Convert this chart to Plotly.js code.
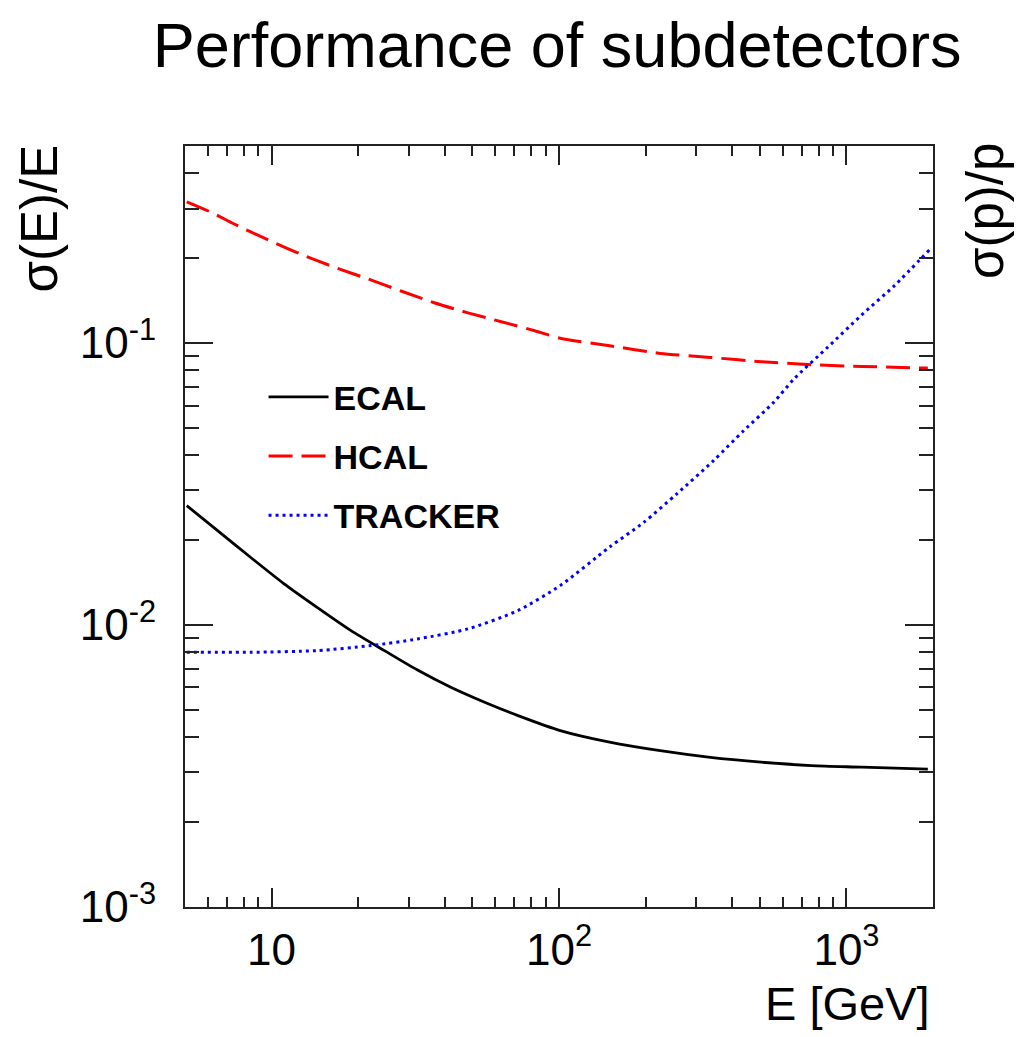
<!DOCTYPE html>
<html>
<head>
<meta charset="utf-8">
<script src="https://cdn.plot.ly/plotly-3.0.1.min.js"></script>
<style>html,body{margin:0;padding:0;background:#fff;}#chart{width:1026px;height:1037px;}</style>
</head>
<body>
<div id="chart"></div>
<script>
// Energy points (GeV) and resolutions
const energyEcal = [5.07, 6.46, 8.45, 11.0, 14.4, 18.9, 24.7, 32.2, 42.2, 55.1, 72, 101, 150, 225, 336, 505, 755, 1132, 1919];
const ecalRes    = [0.0265, 0.0217, 0.01738, 0.01405, 0.01155, 0.00955, 0.00811, 0.00692, 0.00600, 0.00532, 0.00477, 0.00422, 0.00384, 0.00358, 0.00339, 0.00326, 0.00317, 0.00313, 0.00308];

const energyHcal = [5.07, 6.21, 7.38, 9.66, 12.6, 16.5, 21.6, 28.2, 36.8, 48.2, 63, 82.3, 101, 150, 225, 336, 505, 755, 1132, 1919];
const hcalRes    = [0.317, 0.290, 0.265, 0.233, 0.207, 0.186, 0.169, 0.153, 0.139, 0.128, 0.119, 0.1106, 0.104, 0.0978, 0.0919, 0.0889, 0.0859, 0.0838, 0.0826, 0.0815];

const energyTrk  = [5.07, 8.45, 14.4, 22.2, 32.2, 48.2, 72, 102, 150, 197, 257, 345, 439, 558, 656, 859, 1122, 1466, 1941];
const trackerRes = [0.0080, 0.0080, 0.00811, 0.00845, 0.00892, 0.00968, 0.01125, 0.0139, 0.0189, 0.0231, 0.0292, 0.0383, 0.0489, 0.0616, 0.0745, 0.0965, 0.125, 0.1596, 0.2138];

const seriesNames = ['ECAL', 'HCAL', 'TRACKER'];
const xTickVals = [10, 100, 1000];
const xTickText = ['10', '10<sup>2</sup>', '10<sup>3</sup>'];
const yTickVals = [0.001, 0.01, 0.1];
const yTickText = ['10<sup>-3</sup>', '10<sup>-2</sup>', '10<sup>-1</sup>'];
const titleText = 'Performance of subdetectors';
const yTitleLeft = 'σ(E)/E';
const yTitleRight = 'σ(p)/p';
const xTitle = 'E [GeV]';

const FONT = 'Liberation Sans, Arial, Helvetica, sans-serif';

const traces = [
  {x: energyEcal, y: ecalRes, name: seriesNames[0], mode: 'lines', legendgroup: 'a',
   line: {color: '#000000', width: 2.8, shape: 'spline', smoothing: 0.8}},
  {x: energyHcal, y: hcalRes, name: seriesNames[1], mode: 'lines', legendgroup: 'b',
   line: {color: '#ff0000', width: 3, dash: '24px,9px', shape: 'spline', smoothing: 0.7}},
  {x: energyTrk, y: trackerRes, name: seriesNames[2], mode: 'lines', legendgroup: 'c',
   line: {color: '#0000ff', width: 3, dash: '3px,4px', shape: 'spline', smoothing: 0.7}}
];

const axisCommon = {
  type: 'log', showgrid: false, zeroline: false,
  showline: true, linecolor: '#222', linewidth: 2, mirror: 'allticks',
  ticks: 'inside', tickcolor: '#222', tickwidth: 2,
  tickmode: 'array',
  tickfont: {family: FONT, size: 44, color: '#000'},
  minor: {ticks: 'inside', tickmode: 'linear', tick0: 0, dtick: 'D1', tickcolor: '#222', tickwidth: 2, showgrid: false}
};

const layout = {
  width: 1026, height: 1037,
  paper_bgcolor: '#fff', plot_bgcolor: '#fff',
  margin: {l: 185, r: 93, t: 146, b: 130, pad: 0},
  title: {text: titleText, x: 0.543, xanchor: 'center', y: 0.957, yanchor: 'middle',
          font: {family: FONT, size: 63, color: '#000'}},
  xaxis: Object.assign({}, axisCommon, {
    range: [Math.log10(5), Math.log10(2000)],
    tickvals: xTickVals, ticktext: xTickText,
    ticklen: 19, minor: Object.assign({}, axisCommon.minor, {ticklen: 10}),
    ticklabelstandoff: 3
  }),
  yaxis: Object.assign({}, axisCommon, {
    range: [-3.0005, Math.log10(0.5)],
    tickvals: yTickVals, ticktext: yTickText,
    ticklen: 28, minor: Object.assign({}, axisCommon.minor, {ticklen: 14}),
    ticklabelstandoff: 18
  }),
  showlegend: true,
  legend: {x: 0.105, y: 0.708, xanchor: 'left', yanchor: 'top', bgcolor: 'rgba(0,0,0,0)',
           borderwidth: 0, itemwidth: 60, tracegroupgap: 12, traceorder: 'grouped',
           font: {family: FONT, size: 34, color: '#000', weight: 'bold'}},
  annotations: [
    {text: yTitleLeft, xref: 'paper', yref: 'paper', x: -0.195, y: 0.905, textangle: -90,
     xanchor: 'center', yanchor: 'middle', showarrow: false,
     font: {family: FONT, size: 51, color: '#000'}},
    {text: yTitleRight, xref: 'paper', yref: 'paper', x: 1.07, y: 0.915, textangle: -90,
     xanchor: 'center', yanchor: 'middle', showarrow: false,
     font: {family: FONT, size: 51, color: '#000'}},
    {text: xTitle, xref: 'paper', yref: 'paper', x: 0.998, y: -0.127,
     xanchor: 'right', yanchor: 'middle', showarrow: false,
     font: {family: FONT, size: 47, color: '#000'}}
  ]
};

Plotly.newPlot('chart', traces, layout, {displayModeBar: false, staticPlot: true});
</script>
</body>
</html>
